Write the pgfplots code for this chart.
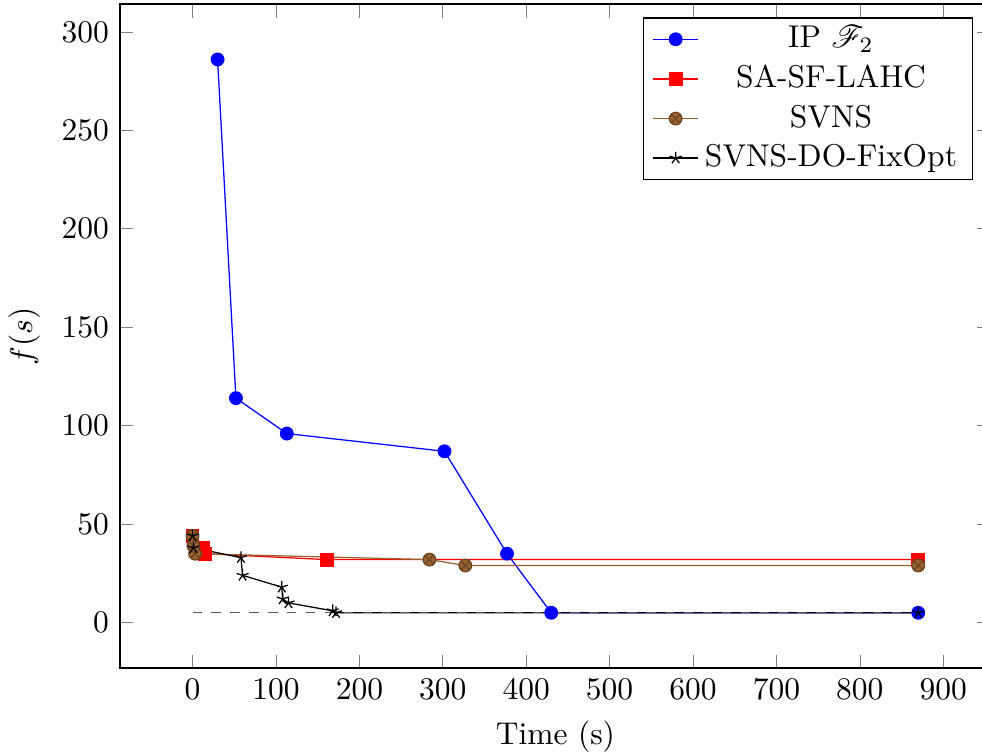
\documentclass[border=0pt]{standalone}
\usepackage{pgfplots}
\pgfplotsset{compat=1.18}
\usepackage{amssymb}
\usepackage{mathrsfs}
\definecolor{svnsbrown}{RGB}{153,98,48}

\begin{document}
\begin{tikzpicture}
  \begin{axis}[
    name=ax,
    scale only axis,
    width=276.5pt, height=210.8pt,
    xmin=-87, xmax=957,
    ymin=-23.05, ymax=314.1,
    xlabel={Time (s)},
    ylabel={$f(s)$},
    legend cell align=center,
    legend style={inner ysep=0.5pt},
    legend image code/.code={
      \draw[mark repeat=2,mark phase=2] plot coordinates {(0cm,0cm) (0.25cm,0cm) (0.5cm,0cm)};
    },
  ]
    \addplot[blue, mark=*] coordinates {
      (30,286) (52,114) (113,96) (302,87) (377,35) (430,5) (870,5)
    };
    \addlegendentry{IP $\mathscr{F}_2$}

    \addplot[red, mark=square*] coordinates {
      (0,44) (13,38) (15,35) (161,32) (870,32)
    };
    \addlegendentry{SA-SF-LAHC}

    \addplot[svnsbrown, mark=otimes*, mark options={fill=svnsbrown, draw=svnsbrown!70!black}] coordinates {
      (0,44) (1,39) (3,35) (284,32) (327,29) (870,29)
    };
    \addlegendentry{SVNS}

    \addplot[black, mark=star] coordinates {
      (0,44) (1,38) (58,33) (60,24) (107,18) (108,12) (115,10) (168,6) (172,5) (870,5)
    };
    \addlegendentry{SVNS-DO-FixOpt}

    \addplot[black!65, dashed, forget plot] coordinates {
      (0,5) (870,5)
    };
  \end{axis}
  \pgfresetboundingbox
  \path[use as bounding box] ([shift={(-38.1pt,-27.3pt)}]ax.south west)
    rectangle ([shift={(273.7pt,212.1pt)}]ax.south west);
\end{tikzpicture}
\end{document}
